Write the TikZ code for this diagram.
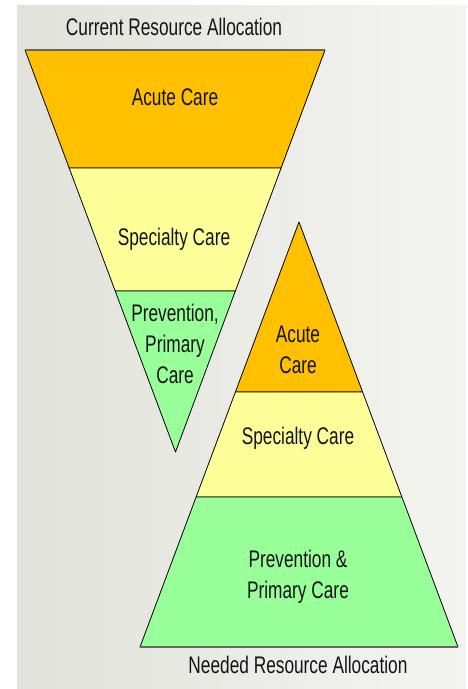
\documentclass[tikz,border=0pt]{standalone}
\usepackage{fontspec}
\setmainfont{Liberation Sans}[FakeStretch=0.72]
\usetikzlibrary{calc}
\definecolor{acute}{HTML}{FFC000}
\definecolor{special}{HTML}{FFFF99}
\definecolor{prevent}{HTML}{99FF99}
\definecolor{bgleft}{HTML}{E2E2DC}
\definecolor{bgright}{HTML}{F4F4F1}

\begin{document}
\begin{tikzpicture}[
                x = 1pt, y = -1pt, % one unit per pixel of the slide
                line join = round,
                thin % line style
            ]

            \tikzstyle{band}=[
            draw = black,
            line width = 0.8pt
            ]
            \tikzstyle{bandtext}=[
            font = \fontsize{24}{31}\selectfont,
            text = black!92,
            align = center
            ]

            \useasboundingbox (0,0) rectangle (468,689);
            \shade[left color = bgleft, right color = bgright] (17,5) rectangle (466,689);

            % current allocation, point down
            \coordinate (cl) at (25,50);
            \coordinate (cr) at (325,50);
            \coordinate (ca) at (175.5,452);
            \coordinate (c1l) at ($(cl)!0.2935!(ca)$);
            \coordinate (c1r) at ($(cr)!0.2935!(ca)$);
            \coordinate (c2l) at ($(cl)!0.5995!(ca)$);
            \coordinate (c2r) at ($(cr)!0.5995!(ca)$);

            \filldraw[band, fill = acute] (cl) -- (cr) -- (c1r) -- (c1l) -- cycle;
            \filldraw[band, fill = special] (c1l) -- (c1r) -- (c2r) -- (c2l) -- cycle;
            \filldraw[band, fill = prevent] (c2l) -- (c2r) -- (ca) -- cycle;
            \draw[line width = 2.5pt, black!60] (cl) -- (cr);

            % needed allocation, point up
            \coordinate (na) at (299,222);
            \coordinate (nl) at (140,647);
            \coordinate (nr) at (458,647);
            \coordinate (n1l) at ($(na)!0.4!(nl)$);
            \coordinate (n1r) at ($(na)!0.4!(nr)$);
            \coordinate (n2l) at ($(na)!0.647!(nl)$);
            \coordinate (n2r) at ($(na)!0.647!(nr)$);

            \filldraw[band, fill = acute] (na) -- (n1r) -- (n1l) -- cycle;
            \filldraw[band, fill = special] (n1l) -- (n1r) -- (n2r) -- (n2l) -- cycle;
            \filldraw[band, fill = prevent] (n2l) -- (n2r) -- (nr) -- (nl) -- cycle;
            \draw[line width = 2.5pt, black!60] (nl) -- (nr);

            \node[bandtext] (cur) at (174,27) {Current Resource Allocation};
            \node[bandtext] (cacute) at (175,97) {Acute Care};
            \node[bandtext] (cspec) at (174,239) {Specialty Care};
            \node[bandtext] (cprev) at (175,344) {Prevention,\\Primary\\Care};

            \node[bandtext] (nacute) at (298,350) {Acute\\Care};
            \node[bandtext] (nspec) at (298,438) {Specialty Care};
            \node[bandtext] (nprev) at (298,577) {Prevention \&\\Primary Care};
            \node[bandtext] (need) at (298,665) {Needed Resource Allocation};
        \end{tikzpicture}
\end{document}
